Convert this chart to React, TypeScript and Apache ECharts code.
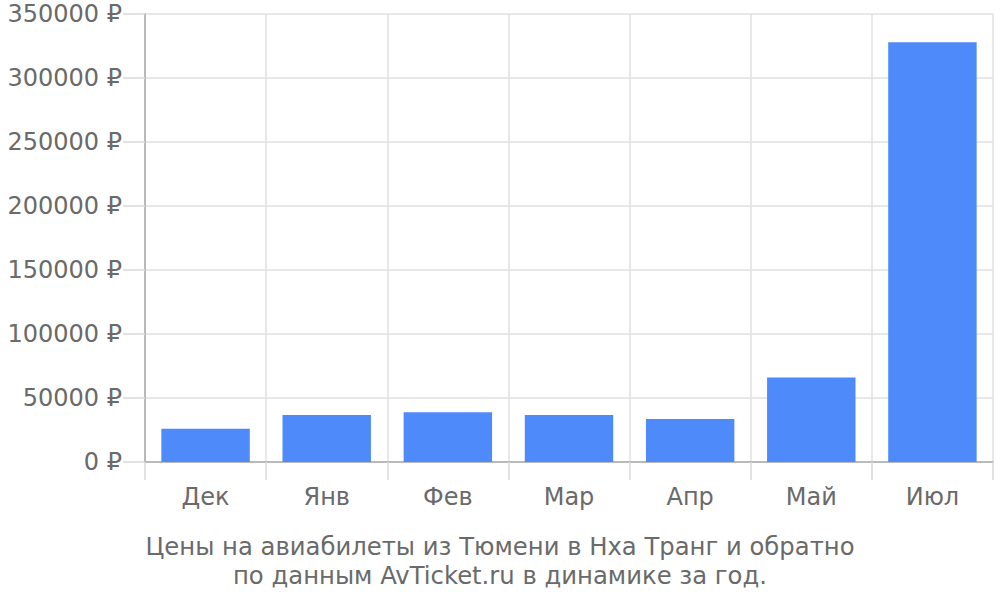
import * as echarts from "echarts";
import { useEffect, useRef } from "react";

const months = ["Дек", "Янв", "Фев", "Мар", "Апр", "Май", "Июл"];
const prices = [26000, 36700, 38800, 36700, 33600, 66000, 328000];
const titleLines = [
  "Цены на авиабилеты из Тюмени в Нха Транг и обратно",
  "по данным AvTicket.ru в динамике за год.",
];

const FONT = "DejaVu Sans";
const TEXT = "#6a6a6a";

export default function App() {
  const chartRef = useRef<HTMLDivElement>(null);

  useEffect(() => {
    document.body.style.margin = "0";
    if (!chartRef.current) return;
    const chart = echarts.init(chartRef.current, undefined, { renderer: "svg" });

    chart.setOption({
      animation: false,
      textStyle: { fontFamily: FONT },
      title: {
        text: titleLines.join("\n"),
        left: "center",
        top: 527,
        textStyle: {
          fontFamily: FONT,
          fontSize: 24.3,
          fontWeight: "normal",
          color: TEXT,
          lineHeight: 29,
        },
      },
      grid: { left: 145, right: 7, top: 14, bottom: 138 },
      xAxis: {
        type: "category",
        data: months,
        axisLine: { lineStyle: { color: "#aaaaaa", width: 1.5 } },
        axisTick: { show: true, inside: false, length: 18, lineStyle: { color: "#d8d8d8", width: 1.5 } },
        splitLine: { show: true, lineStyle: { color: "#e0e0e0", width: 1.5 } },
        axisLabel: { color: TEXT, fontSize: 24, fontFamily: FONT, margin: 23 },
      },
      yAxis: {
        type: "value",
        min: 0,
        max: 350000,
        interval: 50000,
        axisLine: { show: true, lineStyle: { color: "#aaaaaa", width: 1.5 } },
        axisTick: { show: true, inside: false, length: 22, lineStyle: { color: "#d8d8d8", width: 1.5 } },
        splitLine: { lineStyle: { color: "#e0e0e0", width: 1.5 } },
        axisLabel: {
          color: TEXT,
          fontSize: 24,
          fontFamily: FONT,
          margin: 23,
          formatter: (v: number) => `${v} ₽`,
        },
      },
      series: [
        {
          type: "bar",
          data: prices,
          barCategoryGap: "27%",
          itemStyle: { color: "#4E8AF9" },
        },
      ],
    });

    return () => chart.dispose();
  }, []);

  return <div ref={chartRef} style={{ width: 1000, height: 600 }} />;
}
